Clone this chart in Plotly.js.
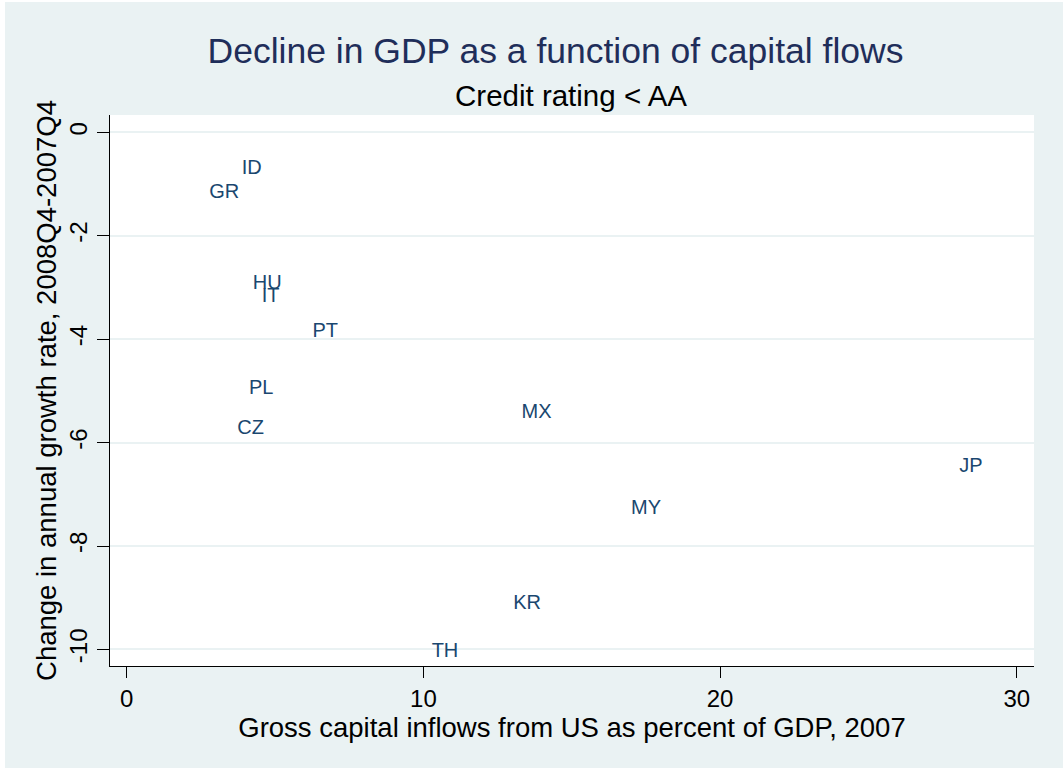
<!DOCTYPE html>
<html>
<head>
<meta charset="utf-8">
<script src="https://cdn.plot.ly/plotly-3.0.1.min.js"></script>
<style>
  html, body { margin: 0; padding: 0; background: #ffffff; }
  #chart { position: absolute; left: 5px; top: 2px; width: 1058px; height: 766px; }
</style>
</head>
<body>
<div id="chart"></div>
<script>
// Country codes (marker labels)
const countries = ['ID', 'GR', 'HU', 'IT', 'PT', 'PL', 'CZ', 'MX', 'MY', 'KR', 'TH', 'JP'];
// Gross capital inflows from US as percent of GDP, 2007
const capitalInflows = [3.71, 2.61, 4.08, 4.38, 6.09, 3.95, 3.56, 13.14, 16.83, 12.86, 10.11, 27.89];
// Change in annual growth rate, 2008Q4-2007Q4
const growthChange = [-0.71, -1.18, -2.93, -3.19, -3.86, -4.97, -5.73, -5.43, -7.28, -9.12, -10.04, -6.48];
// Axis ticks
const xTicks = [0, 10, 20, 30];
const yTicks = [0, -2, -4, -6, -8, -10];

const FONT = 'Liberation Sans, Arial, Helvetica, sans-serif';

const trace = {
  type: 'scatter',
  mode: 'markers+text',
  x: capitalInflows,
  y: growthChange,
  text: countries,
  textposition: 'middle right',
  marker: { size: 6.4, opacity: 0, color: '#1A476F' },
  textfont: { family: FONT, size: 20, color: '#1A476F' },
  hoverinfo: 'x+y+text',
  showlegend: false
};

const layout = {
  width: 1058,
  height: 766,
  paper_bgcolor: '#EAF2F3',
  plot_bgcolor: '#FFFFFF',
  margin: { l: 105, r: 29, t: 113, b: 102 },
  font: { family: FONT, color: '#000000' },
  title: {
    text: 'Decline in GDP as a function of capital flows',
    font: { family: FONT, size: 35.5, color: '#1F2E5A' },
    xref: 'container', yref: 'container',
    x: 550.5 / 1058, y: 1 - 49 / 766,
    xanchor: 'center', yanchor: 'middle'
  },
  annotations: [{
    text: 'Credit rating < AA',
    xref: 'paper', yref: 'paper',
    x: (570.8 - 110) / 924, y: (666 - 95) / 551,
    xanchor: 'center', yanchor: 'middle',
    showarrow: false,
    font: { family: FONT, size: 29.5, color: '#000000' }
  }],
  xaxis: {
    range: [-0.563, 30.58],
    tickvals: xTicks,
    ticktext: xTicks.map(String),
    ticks: 'outside', ticklen: 11, tickwidth: 1, tickcolor: '#000000',
    tickfont: { family: FONT, size: 24, color: '#000000' },
    showline: true, linecolor: '#000000', linewidth: 1,
    showgrid: false, zeroline: false,
    title: {
      text: 'Gross capital inflows from US as percent of GDP, 2007',
      font: { family: FONT, size: 27.5, color: '#000000' },
      standoff: 0
    }
  },
  yaxis: {
    range: [-10.32, 0.335],
    tickvals: yTicks,
    ticktext: yTicks.map(String),
    tickangle: -90,
    ticks: 'outside', ticklen: 12, tickwidth: 1, tickcolor: '#000000',
    ticklabelstandoff: 0,
    tickfont: { family: FONT, size: 24, color: '#000000' },
    showline: true, linecolor: '#000000', linewidth: 1,
    showgrid: true, gridcolor: '#EAF2F3', gridwidth: 2,
    zeroline: false,
    title: {
      text: 'Change in annual growth rate, 2008Q4-2007Q4',
      font: { family: FONT, size: 27.5, color: '#000000' },
      standoff: 0
    }
  }
};

Plotly.newPlot('chart', [trace], layout, { displayModeBar: false, responsive: false });
</script>
</body>
</html>
